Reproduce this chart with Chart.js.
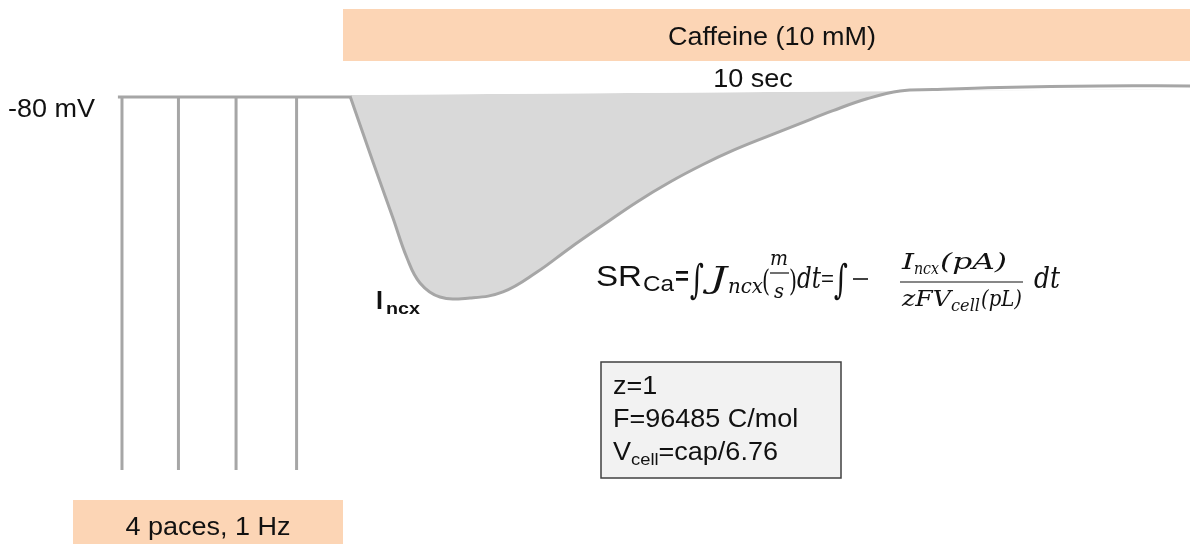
<!DOCTYPE html>
<html>
<head>
<meta charset="utf-8">
<script src="https://cdn.jsdelivr.net/npm/chart.js@4"></script>
<style>
  body { margin: 0; background: #fff; }
  canvas { display: block; }
</style>
</head>
<body>
<canvas id="trace" width="1190" height="544"></canvas>
<script>
// pacing: 4 stimuli at 1 Hz (time in s), current normalised to the caffeine peak
const paceTimes = [0, 0.97, 1.96, 3.0];
const paceDepth = -1.856;
const restStart = -0.07;

// caffeine-induced NCX current
const caffeineTime = [3.918, 4.313, 4.656, 4.897, 5.120, 5.464, 5.979, 6.546, 7.131, 7.698, 8.265,
    8.849, 9.416, 9.983, 10.498, 11.082, 11.649, 12.216, 12.801, 13.368, 13.935, 15.086, 16.804, 18.351];
const caffeineCurrent = [0.005, -0.323, -0.602, -0.801, -0.925, -0.995, -1.000, -0.970, -0.871, -0.751, -0.637,
    -0.522, -0.423, -0.336, -0.266, -0.197, -0.132, -0.068, -0.009, 0.030, 0.037, 0.047, 0.055, 0.055];

// holding level the integral is taken against
const holdTime = [3.918, 18.351];
const holdCurrent = [0.01, 0.04];

const LINE = '#a6a6a6';
const AREA = '#d9d9d9';
const PEACH = '#fcd5b5';
const SANS = '"Liberation Sans", Arial, sans-serif';
const SERIF = '"DejaVu Serif", "Liberation Serif", serif';

function pacePoints() {
    const pts = [{x: restStart, y: 0}];
    paceTimes.forEach((t) => {
        pts.push({x: t, y: 0}, {x: t, y: paceDepth}, {x: t, y: 0});
    });
    pts.push({x: caffeineTime[0], y: 0});
    return pts;
}

// draws text, stretched to a width or by a horizontal factor; returns the right edge
function txt(ctx, str, x, y, font, opts = {}) {
    ctx.save();
    ctx.font = font;
    ctx.fillStyle = opts.color || '#111';
    ctx.textBaseline = 'alphabetic';
    const w = ctx.measureText(str).width;
    const sx = opts.width ? opts.width / w : (opts.sx || 1.08);
    const left = opts.align === 'center' ? x - w * sx / 2 : x;
    ctx.translate(left, y);
    ctx.scale(sx, 1);
    ctx.fillText(str, 0, 0);
    ctx.restore();
    return left + w * sx;
}

function hline(ctx, x1, x2, y, lw) {
    ctx.save();
    ctx.strokeStyle = '#111';
    ctx.lineWidth = lw || 1.2;
    ctx.beginPath();
    ctx.moveTo(x1, y);
    ctx.lineTo(x2, y);
    ctx.stroke();
    ctx.restore();
}

const decorations = {
    id: 'decorations',
    beforeDatasetsDraw(chart) {
        const ctx = chart.ctx;
        ctx.save();
        ctx.fillStyle = PEACH;
        ctx.fillRect(343, 9, 847, 52);
        ctx.fillRect(73, 500, 270, 44);
        ctx.fillStyle = '#f2f2f2';
        ctx.fillRect(601, 362, 240, 116);
        ctx.strokeStyle = '#404040';
        ctx.lineWidth = 1.5;
        ctx.strokeRect(601, 362, 240, 116);
        ctx.restore();
    },
    afterDatasetsDraw(chart) {
        const ctx = chart.ctx;
        const f25 = '25px ' + SANS;

        txt(ctx, 'Caffeine (10 mM)', 772, 45, f25, {align: 'center'});
        txt(ctx, '10 sec', 753, 87, f25, {align: 'center'});
        txt(ctx, '-80 mV', 8, 117, f25);
        txt(ctx, '4 paces, 1 Hz', 208, 535, f25, {align: 'center'});

        // I_ncx label
        txt(ctx, 'I', 376, 309, 'bold 25px ' + SANS, {sx: 1});
        txt(ctx, 'ncx', 386, 314, 'bold 17px ' + SANS, {width: 34});

        // constants box
        txt(ctx, 'z=1', 613, 394, f25);
        txt(ctx, 'F=96485 C/mol', 613, 427, f25);
        let x = txt(ctx, 'V', 613, 460, f25);
        x = txt(ctx, 'cell', x, 465, '17px ' + SANS);
        txt(ctx, '=cap/6.76', x, 460, f25);

        // SR content equation
        const it = (s) => 'italic ' + s + 'px ' + SERIF;
        txt(ctx, 'SR', 596, 286, '30px ' + SANS, {width: 46});
        txt(ctx, 'Ca', 643, 291, '22px ' + SANS, {width: 31});
        txt(ctx, '=', 675, 285, 'bold 26px ' + SANS, {width: 14});
        txt(ctx, '\u222B', 690, 293, '40px ' + SERIF, {width: 14});
        txt(ctx, 'J', 710, 288, it(30), {width: 17});
        txt(ctx, 'ncx', 728, 293, it(21), {width: 35});
        txt(ctx, '(', 762, 291, '30px ' + SERIF, {width: 8});
        txt(ctx, 'm', 770, 265, it(21), {width: 18});
        hline(ctx, 770, 789, 273);
        txt(ctx, 's', 774, 298, it(21), {width: 10});
        txt(ctx, ')', 789, 291, '30px ' + SERIF, {width: 8});
        txt(ctx, 'dt', 797, 288, it(30), {width: 24});
        txt(ctx, '=', 821, 286, '22px ' + SANS, {width: 13});
        txt(ctx, '\u222B', 834, 293, '40px ' + SERIF, {width: 14});
        hline(ctx, 853, 868, 279, 1.6);
        txt(ctx, 'I', 902, 269, it(23), {width: 12});
        txt(ctx, 'ncx', 914, 274, it(16), {width: 25});
        txt(ctx, '(pA)', 940, 269, it(23), {width: 67});
        hline(ctx, 900, 1023, 282);
        txt(ctx, 'zFV', 902, 306, it(23), {width: 49});
        txt(ctx, 'cell', 951, 311, it(16), {width: 29});
        txt(ctx, '(pL)', 981, 306, it(23), {width: 41});
        txt(ctx, 'dt', 1034, 288, it(30), {width: 26});
    }
};

new Chart(document.getElementById('trace'), {
    type: 'line',
    data: {
        datasets: [
            {
                label: 'caffeine',
                data: caffeineTime.map((t, i) => ({x: t, y: caffeineCurrent[i]})),
                borderColor: LINE,
                borderWidth: 3,
                pointRadius: 0,
                tension: 0.4,
                fill: {target: 1, above: 'rgba(0,0,0,0)', below: AREA}
            },
            {
                label: 'holding',
                data: holdTime.map((t, i) => ({x: t, y: holdCurrent[i]})),
                borderColor: 'rgba(0,0,0,0)',
                borderWidth: 0,
                pointRadius: 0,
                fill: false
            },
            {
                label: 'pacing',
                data: pacePoints(),
                borderColor: LINE,
                borderWidth: 3,
                pointRadius: 0,
                tension: 0,
                fill: false
            }
        ]
    },
    options: {
        responsive: false,
        animation: false,
        events: [],
        layout: {padding: 0},
        plugins: {legend: {display: false}, tooltip: {enabled: false}},
        scales: {
            x: {type: 'linear', display: false, min: -2.096, max: 18.351},
            y: {display: false, min: -2.224, max: 0.4826}
        }
    },
    plugins: [decorations]
});
</script>
</body>
</html>
